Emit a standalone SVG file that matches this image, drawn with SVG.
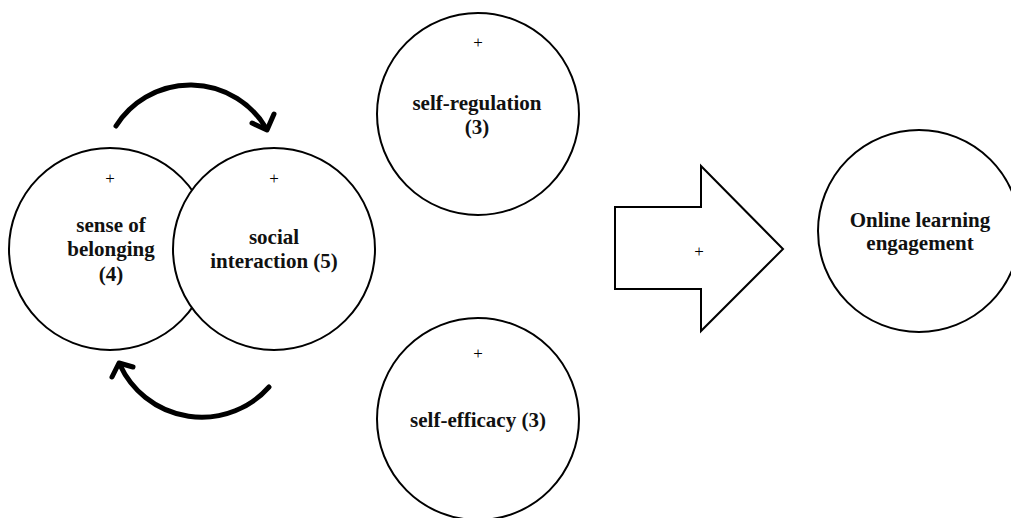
<svg xmlns="http://www.w3.org/2000/svg" width="1011" height="518" viewBox="0 0 1011 518">
<style>
.node{fill:#fff;stroke:#000;stroke-width:2}
.lbl{font-family:"Liberation Serif","Times New Roman",serif;font-weight:bold;font-size:21px;text-anchor:middle;fill:#111}
.plus{font-family:"Liberation Serif","Times New Roman",serif;font-size:17px;text-anchor:middle;fill:#000}
.curve{fill:none;stroke:#000;stroke-width:5;stroke-linecap:round;stroke-linejoin:round}
</style>
<rect width="1011" height="518" fill="#fff"/>
<g id="belonging">
<circle class="node" cx="110" cy="249" r="101"/>
<text class="plus" x="110" y="184">+</text>
<text class="lbl" x="111" y="232">sense of</text>
<text class="lbl" x="111" y="256">belonging</text>
<text class="lbl" x="111" y="281">(4)</text>
</g>
<g id="social">
<circle class="node" cx="274" cy="249" r="101"/>
<text class="plus" x="274" y="184">+</text>
<text class="lbl" x="274" y="244">social</text>
<text class="lbl" x="274" y="268">interaction (5)</text>
</g>
<g id="selfreg">
<circle class="node" cx="478" cy="114" r="101"/>
<text class="plus" x="478" y="48">+</text>
<text class="lbl" x="477" y="110">self-regulation</text>
<text class="lbl" x="477" y="134">(3)</text>
</g>
<g id="selfeff">
<circle class="node" cx="478" cy="419" r="101"/>
<text class="plus" x="478" y="359">+</text>
<text class="lbl" x="478" y="427">self-efficacy (3)</text>
</g>
<g id="engagement">
<circle class="node" cx="919" cy="231" r="101"/>
<text class="lbl" x="920" y="227">Online learning</text>
<text class="lbl" x="920" y="250">engagement</text>
</g>
<g id="bigarrow">
<polygon class="node" points="615,207 701,207 701,166 783,249 701,331 701,289 615,289"/>
<text class="plus" x="699" y="257">+</text>
</g>
<g id="connectors">
<path class="curve" d="M116,126 A88,88 0 0 1 266,128"/>
<path class="curve" d="M252,123 L267,130 L274,114"/>
<path class="curve" d="M269,387 A90,90 0 0 1 120,365"/>
<path class="curve" d="M112,377 L119,363 L133,367"/>
</g>
</svg>
